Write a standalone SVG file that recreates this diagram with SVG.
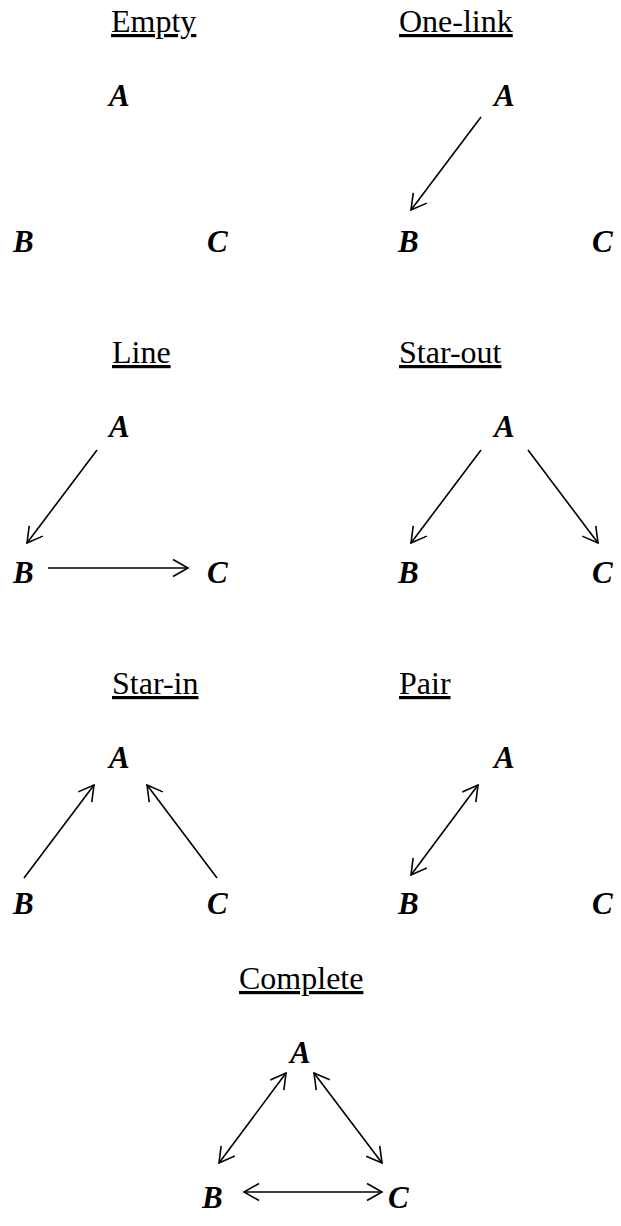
<svg xmlns="http://www.w3.org/2000/svg" width="621" height="1226" viewBox="0 0 621 1226">
<style>
.title{font-family:"Liberation Serif","Times New Roman",serif;font-size:32px;fill:#000;text-decoration:underline}
.lbl{font-family:"Liberation Serif","Times New Roman",serif;font-size:31px;font-weight:bold;font-style:italic;fill:#000}
.e{stroke:#000;stroke-width:1.6;fill:none}
.one{marker-end:url(#ah)}
.two{marker-start:url(#ah);marker-end:url(#ah)}
</style>
<defs>
<marker id="ah" markerUnits="userSpaceOnUse" viewBox="-18 -11 21 22" refX="0" refY="0" markerWidth="21" markerHeight="22" orient="auto-start-reverse">
<path d="M-15,-8.5 L0,0 L-15,8.5" fill="none" stroke="#000" stroke-width="1.6"/>
</marker>
</defs>
<rect width="621" height="1226" fill="#fff"/>
<g id="titles">
<text class="title" x="111" y="32">Empty</text>
<text class="title" x="399" y="32">One-link</text>
<text class="title" x="112" y="363">Line</text>
<text class="title" x="399" y="363">Star-out</text>
<text class="title" x="112" y="694">Star-in</text>
<text class="title" x="399" y="694">Pair</text>
<text class="title" x="239" y="989">Complete</text>
</g>
<g id="empty">
<text id="empty-A" class="lbl" x="109" y="106">A</text>
<text id="empty-B" class="lbl" x="13" y="252">B</text>
<text id="empty-C" class="lbl" x="207" y="252">C</text>
</g>
<g id="onelink">
<text id="onelink-A" class="lbl" x="494" y="106">A</text>
<text id="onelink-B" class="lbl" x="398" y="252">B</text>
<text id="onelink-C" class="lbl" x="592" y="252">C</text>
</g>
<g id="line">
<text id="line-A" class="lbl" x="109" y="437">A</text>
<text id="line-B" class="lbl" x="13" y="583">B</text>
<text id="line-C" class="lbl" x="207" y="583">C</text>
</g>
<g id="starout">
<text id="starout-A" class="lbl" x="494" y="437">A</text>
<text id="starout-B" class="lbl" x="398" y="583">B</text>
<text id="starout-C" class="lbl" x="592" y="583">C</text>
</g>
<g id="starin">
<text id="starin-A" class="lbl" x="109" y="768">A</text>
<text id="starin-B" class="lbl" x="13" y="914">B</text>
<text id="starin-C" class="lbl" x="207" y="914">C</text>
</g>
<g id="pair">
<text id="pair-A" class="lbl" x="494" y="768">A</text>
<text id="pair-B" class="lbl" x="398" y="914">B</text>
<text id="pair-C" class="lbl" x="592" y="914">C</text>
</g>
<g id="complete">
<text id="complete-A" class="lbl" x="290" y="1063">A</text>
<text id="complete-B" class="lbl" x="202" y="1208">B</text>
<text id="complete-C" class="lbl" x="388" y="1208">C</text>
</g>
<g id="connectors">
<line class="e one" x1="481" y1="117" x2="411" y2="210"/>
<line class="e one" x1="97" y1="450" x2="27" y2="543"/>
<line class="e one" x1="48" y1="568" x2="188" y2="568"/>
<line class="e one" x1="481" y1="450" x2="411" y2="543"/>
<line class="e one" x1="528" y1="450" x2="598" y2="543"/>
<line class="e one" x1="24" y1="878" x2="94" y2="785"/>
<line class="e one" x1="217" y1="878" x2="147" y2="785"/>
<line class="e two" x1="411" y1="875" x2="478" y2="785"/>
<line class="e two" x1="219" y1="1163" x2="286" y2="1073"/>
<line class="e two" x1="382" y1="1163" x2="314" y2="1073"/>
<line class="e two" x1="244" y1="1192" x2="382" y2="1192"/>
</g>
</svg>
